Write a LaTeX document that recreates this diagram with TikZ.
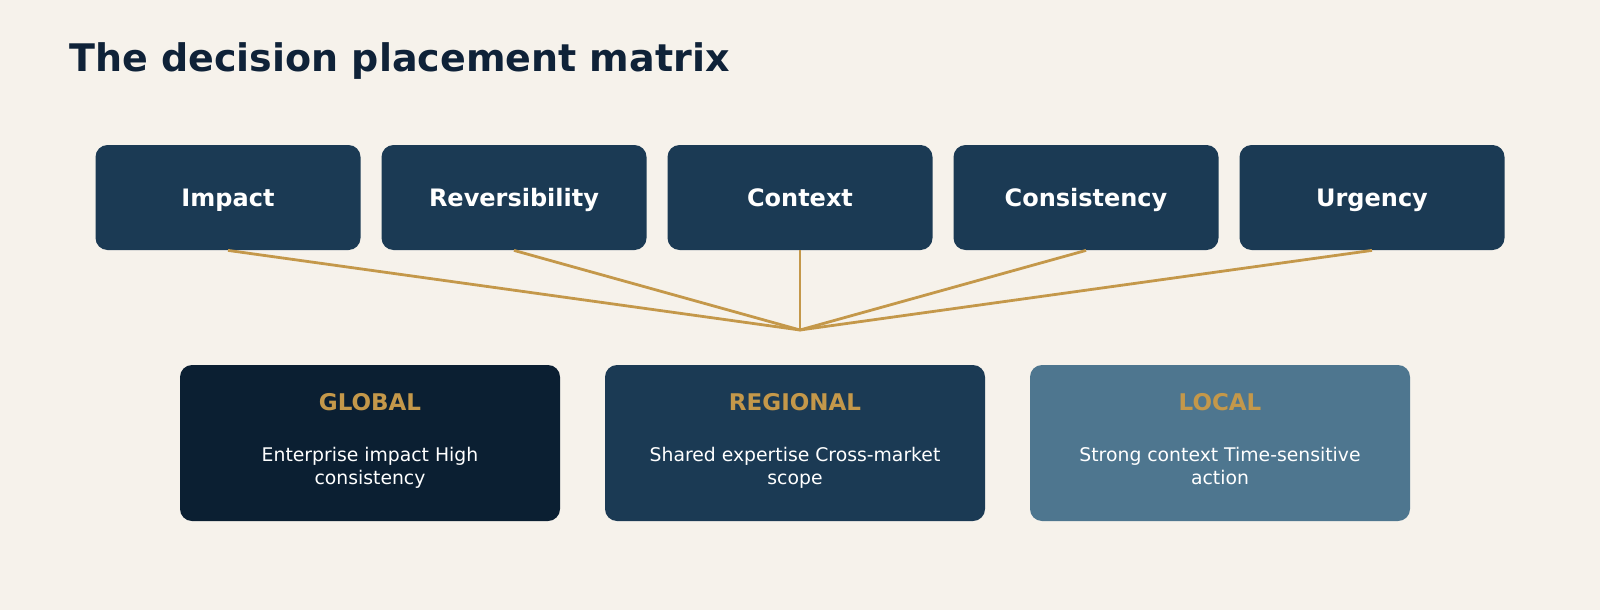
\documentclass[tikz,border=0pt]{standalone}
\usepackage{xcolor}
\usepackage{fontspec}
\setmainfont{DejaVu Sans}
\usepackage{tikz}

\definecolor{paper}{HTML}{F6F2EB}
\definecolor{ink}{HTML}{0F2238}
\definecolor{navy}{HTML}{1B3A54}
\definecolor{deepnavy}{HTML}{0B1F32}
\definecolor{steel}{HTML}{4E768F}
\definecolor{gold}{HTML}{C4984A}

\begin{document}
\begin{tikzpicture}[x=0.5pt,y=-0.5pt,
  factor/.style={fill=navy, rounded corners=6pt, minimum width=132.5pt, minimum height=52.5pt,
    inner sep=0pt, text height=8.8pt, text depth=0pt, text=white, font=\fontsize{12}{14}\selectfont\bfseries},
  tier/.style={rounded corners=6pt, minimum width=190pt, minimum height=78pt, inner sep=0pt},
  tiername/.style={anchor=base, inner sep=0pt, text=gold, font=\fontsize{11.5}{14}\selectfont\bfseries},
  tiertext/.style={anchor=base, inner sep=0pt, text=white, align=center, font=\fontsize{9.4}{11.75}\selectfont},
  link/.style={draw=gold, line width=1.4pt}]
\fill[paper] (0,0) rectangle (1600,610);
\useasboundingbox (0,0) rectangle (1600,610);

\node[anchor=base west, text=ink, font=\fontsize{19}{22}\selectfont\bfseries, inner sep=0pt] (title) at (69,72) {The decision placement matrix};

\node[factor] (impact) at (228,197.5) {Impact};
\node[factor] (revers) at (514,197.5) {Reversibility};
\node[factor] (context) at (800,197.5) {Context};
\node[factor] (consist) at (1086,197.5) {Consistency};
\node[factor] (urgency) at (1372,197.5) {Urgency};

\coordinate (hub) at (800,330);
\draw[link] (impact.south) -- (hub);
\draw[link] (revers.south) -- (hub);
\draw[link] (context.south) -- (hub);
\draw[link] (consist.south) -- (hub);
\draw[link] (urgency.south) -- (hub);

\node[tier, fill=deepnavy] (global) at (370,443) {};
\node[tiername] (globalname) at (370,410) {GLOBAL};
\node[tiertext] (globaltext) at (370,484.5) {Enterprise impact High\\consistency};

\node[tier, fill=navy] (regional) at (795,443) {};
\node[tiername] (regionalname) at (795,410) {REGIONAL};
\node[tiertext] (regionaltext) at (795,484.5) {Shared expertise Cross-market\\scope};

\node[tier, fill=steel] (local) at (1220,443) {};
\node[tiername] (localname) at (1220,410) {LOCAL};
\node[tiertext] (localtext) at (1220,484.5) {Strong context Time-sensitive\\action};
\end{tikzpicture}
\end{document}
